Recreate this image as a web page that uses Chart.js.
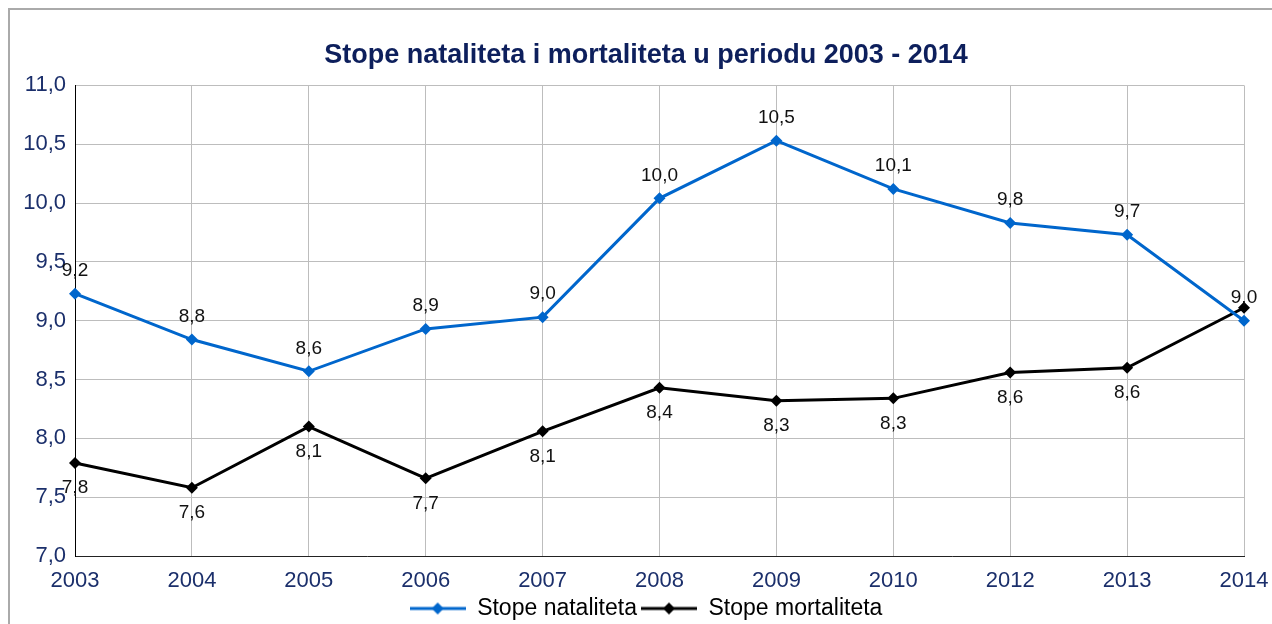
<!DOCTYPE html>
<html>
<head>
<meta charset="utf-8">
<title>Stope nataliteta i mortaliteta</title>
<script src="https://cdn.jsdelivr.net/npm/chart.js@4/dist/chart.umd.min.js"></script>
<style>
  html, body { margin: 0; padding: 0; background: #fff; }
  #wrap { width: 1272px; height: 624px; }
</style>
</head>
<body>
<div id="wrap"><canvas id="chart" width="1272" height="624"></canvas></div>
<script>
// podaci
const godine = ["2003", "2004", "2005", "2006", "2007", "2008", "2009", "2010", "2012", "2013", "2014"];
const natalitet = [9.23, 8.84, 8.57, 8.93, 9.03, 10.04, 10.53, 10.12, 9.83, 9.73, 9.0];
const mortalitet = [7.79, 7.58, 8.10, 7.66, 8.06, 8.43, 8.32, 8.34, 8.56, 8.60, 9.11];
// oznake vrijednosti kako su ispisane na grafikonu (zadnja oznaka mortaliteta se ne vidi)
const natalitetOznake = ["9,2", "8,8", "8,6", "8,9", "9,0", "10,0", "10,5", "10,1", "9,8", "9,7", "9,0"];
const mortalitetOznake = ["7,8", "7,6", "8,1", "7,7", "8,1", "8,4", "8,3", "8,3", "8,6", "8,6", ""];

const PLAVA = "#0066cc";
const CRNA = "#000000";
const TEKST_OSI = "#1b2f6b";

Chart.defaults.font.family = '"Liberation Sans", Arial, sans-serif';

// mala slika za legendu: linija s rombom
function ikona(boja) {
  const c = document.createElement("canvas");
  c.width = 56;
  c.height = 14;
  const g = c.getContext("2d");
  g.strokeStyle = boja;
  g.lineWidth = 3;
  g.beginPath();
  g.moveTo(0, 7);
  g.lineTo(56, 7);
  g.stroke();
  g.fillStyle = boja;
  g.beginPath();
  g.moveTo(28, 1);
  g.lineTo(34, 7);
  g.lineTo(28, 13);
  g.lineTo(22, 7);
  g.closePath();
  g.fill();
  return c;
}

const okvir = {
  id: "okvir",
  beforeDraw(chart) {
    const c = chart.ctx;
    c.save();
    c.fillStyle = "#fff";
    c.fillRect(0, 0, chart.width, chart.height);
    c.strokeStyle = "#aaaaaa";
    c.lineWidth = 2;
    c.strokeRect(9, 9, chart.width + 20, chart.height + 20);
    c.restore();
  }
};

const oznake = {
  id: "oznake",
  afterDatasetsDraw(chart) {
    const c = chart.ctx;
    c.save();
    c.font = '19px "Liberation Sans", Arial, sans-serif';
    c.fillStyle = "#111";
    c.textAlign = "center";
    c.textBaseline = "middle";
    chart.data.datasets.forEach((ds, i) => {
      const meta = chart.getDatasetMeta(i);
      meta.data.forEach((pt, j) => {
        const txt = ds.oznake[j];
        if (!txt) return;
        c.fillText(txt, pt.x, pt.y + ds.pomak);
      });
    });
    c.restore();
  }
};

const config = {
  type: "line",
  data: {
    labels: godine,
    datasets: [
      {
        label: "Stope nataliteta",
        data: natalitet,
        oznake: natalitetOznake,
        pomak: -23,
        borderColor: PLAVA,
        backgroundColor: PLAVA,
        borderWidth: 3,
        pointStyle: "rectRot",
        pointRadius: 6,
        pointBorderWidth: 0,
        pointBackgroundColor: PLAVA,
        tension: 0
      },
      {
        label: "Stope mortaliteta",
        data: mortalitet,
        oznake: mortalitetOznake,
        pomak: 25,
        borderColor: CRNA,
        backgroundColor: CRNA,
        borderWidth: 3,
        pointStyle: "rectRot",
        pointRadius: 6,
        pointBorderWidth: 0,
        pointBackgroundColor: CRNA,
        tension: 0
      }
    ]
  },
  options: {
    responsive: false,
    animation: false,
    layout: { padding: { top: 30, left: 20, right: 0, bottom: -6 } },
    scales: {
      x: {
        offset: false,
        grid: { color: "#bdbdbd", drawTicks: false },
        border: { color: "#222", width: 1 },
        ticks: {
          color: TEKST_OSI,
          padding: 14,
          maxRotation: 0,
          font: { size: 22, lineHeight: 1.0 }
        },
        afterFit(scale) {
          scale.height = 37;
          scale.paddingRight = 28;
          scale.paddingLeft = 0;
        }
      },
      y: {
        min: 7,
        max: 11,
        grid: { color: "#bdbdbd", drawTicks: false },
        border: { color: "#000", width: 1 },
        ticks: {
          stepSize: 0.5,
          color: TEKST_OSI,
          padding: 9,
          font: { size: 22 },
          callback: (v) => v.toFixed(1).replace(".", ",")
        },
        afterFit(scale) {
          scale.width = 55;
        }
      }
    },
    plugins: {
      title: {
        display: true,
        text: "Stope nataliteta i mortaliteta u periodu 2003 - 2014",
        color: "#0d1f5c",
        font: { size: 27, weight: "bold" },
        padding: { top: 9, bottom: 14 }
      },
      legend: {
        position: "bottom",
        labels: {
          color: "#000",
          font: { size: 23 },
          usePointStyle: true,
          pointStyleWidth: 56,
          boxHeight: 14,
          padding: 4,
          generateLabels(chart) {
            return Chart.defaults.plugins.legend.labels.generateLabels(chart).map((it, i) => ({
              ...it,
              pointStyle: ikona(chart.data.datasets[i].borderColor)
            }));
          }
        }
      },
      tooltip: { enabled: false }
    }
  },
  plugins: [okvir, oznake]
};

new Chart(document.getElementById("chart").getContext("2d"), config);
</script>
</body>
</html>
